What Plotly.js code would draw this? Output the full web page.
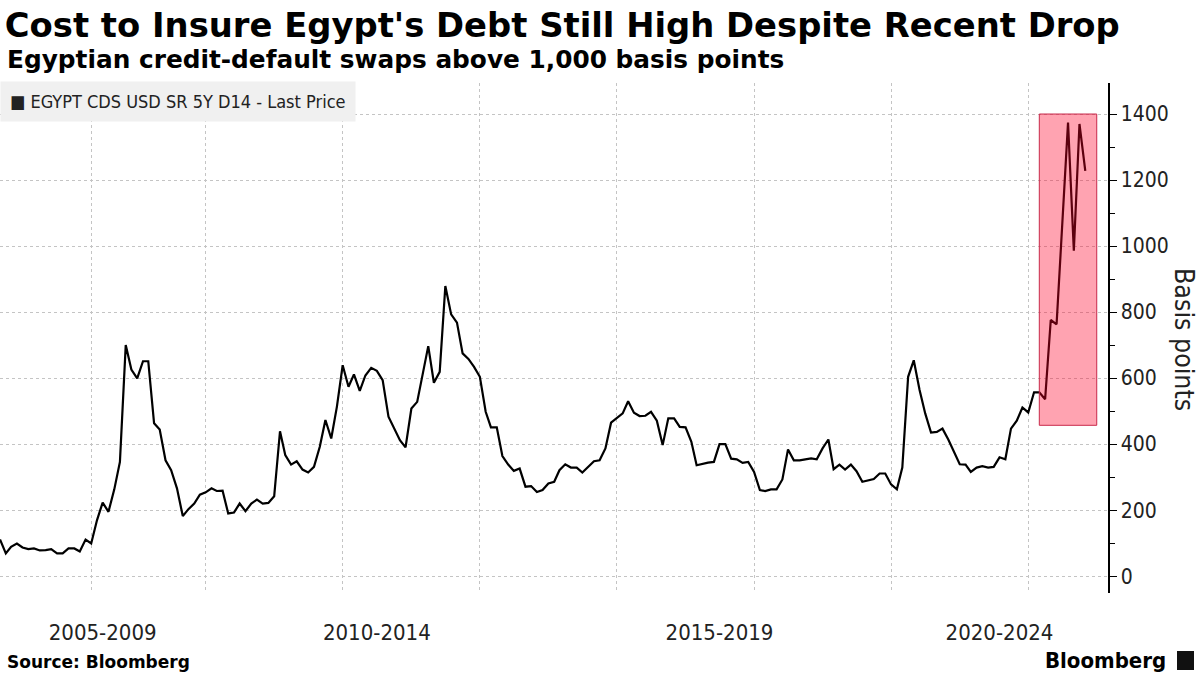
<!DOCTYPE html>
<html>
<head>
<meta charset="utf-8">
<script src="https://cdn.plot.ly/plotly-3.0.1.min.js"></script>
<style>html,body{margin:0;padding:0;background:#fff;}#chart{width:1200px;height:675px;}</style>
</head>
<body>
<div id="chart"></div>
<script>
// ---- data (monthly) ----
const seriesName = 'EGYPT CDS USD SR 5Y D14 - Last Price';
const startYear = 2007;   // first observation: Jan 2007
const startMonth = 1;
const cdsValues = [
  111, 69, 89, 99, 87, 82, 84, 78, 79, 82, 69, 69,            // 2007
  84, 84, 75, 111, 99, 170, 223, 195, 263, 346, 700, 626,     // 2008
  599, 651, 651, 463, 444, 351, 321, 266, 182, 203, 220, 247, // 2009
  254, 266, 258, 259, 190, 193, 220, 197, 220, 232, 220, 222, // 2010
  242, 439, 367, 338, 348, 323, 314, 331, 392, 473, 417, 513, // 2011
  639, 574, 611, 561, 608, 631, 622, 594, 483, 448, 412, 390, // 2012
  508, 528, 614, 697, 586, 619, 879, 793, 768, 675, 658, 634, // 2013
  604, 498, 451, 451, 364, 338, 319, 326, 271, 273, 255, 261, // 2014
  281, 286, 321, 339, 329, 329, 314, 331, 348, 351, 387, 465, // 2015
  478, 493, 530, 495, 485, 486, 498, 471, 397, 478, 478, 452, // 2016
  451, 407, 336, 341, 344, 346, 400, 400, 356, 354, 343, 346, // 2017
  316, 261, 258, 263, 263, 293, 384, 351, 351, 354, 357, 354, // 2018
  387, 414, 324, 338, 323, 338, 318, 286, 289, 294, 311, 311, // 2019
  278, 263, 329, 604, 654, 564, 493, 435, 437, 447, 414, 377, // 2020
  339, 338, 316, 329, 333, 329, 331, 360, 354, 447, 471, 511, // 2021
  496, 557, 557, 536, 776, 763, 1068, 1374, 986, 1370, 1228   // 2022
];
const periodLabels = ['2005-2009', '2010-2014', '2015-2019', '2020-2024'];
const periodLabelDates = ['2008-07-01', '2012-07-01', '2017-07-01', '2021-08-01'];
const gridDates = ['2007-01-01', '2008-05-05', '2010-01-01', '2012-01-01', '2014-01-01',
                   '2016-01-01', '2018-01-01', '2020-01-01', '2022-01-01'];
const yTicks = [0, 200, 400, 600, 800, 1000, 1200, 1400];
const highlightStart = '2022-03-01';
const highlightEnd = '2023-01-01';
const highlightLow = 457;
const highlightHigh = 1400;

// ---- build dates ----
function monthDate(i) {
  const m0 = (startMonth - 1) + i;
  const y = startYear + Math.floor(m0 / 12);
  const m = (m0 % 12) + 1;
  return y + '-' + (m < 10 ? '0' + m : m) + '-01';
}
const cdsDates = cdsValues.map((_, i) => monthDate(i));

const FONT = '"DejaVu Sans Condensed", "DejaVu Sans", sans-serif';
const FONT_WIDE = '"DejaVu Sans", sans-serif';

const trace = {
  type: 'scatter', mode: 'lines',
  x: cdsDates, y: cdsValues, name: seriesName,
  line: { color: '#000000', width: 2.2 },
  showlegend: false, hoverinfo: 'x+y'
};

const layout = {
  width: 1200, height: 675,
  margin: { l: 0, r: 92, t: 83, b: 82 },
  paper_bgcolor: '#ffffff', plot_bgcolor: '#ffffff',
  font: { family: FONT, color: '#222222' },
  showlegend: false,
  title: {
    text: "Cost to Insure Egypt's Debt Still High Despite Recent Drop",
    x: 0.004, xanchor: 'left', y: 0.963, yanchor: 'middle',
    font: { family: FONT_WIDE, size: 33.8, color: '#000000', weight: 'bold' }
  },
  xaxis: {
    type: 'date',
    range: ['2007-01-01', '2023-03-02'],
    tickmode: 'array', tickvals: periodLabelDates, ticktext: periodLabels,
    ticks: '', showgrid: false, showline: false, zeroline: false,
    tickfont: { family: FONT, size: 22, color: '#222222' },
    ticklabelstandoff: 24,
    minor: {
      tickmode: 'array', tickvals: gridDates, ticks: '',
      showgrid: true, gridcolor: '#c4c4c4', gridwidth: 1, griddash: 'dot'
    }
  },
  yaxis: {
    side: 'right',
    range: [-51, 1494],
    tickmode: 'array', tickvals: yTicks,
    ticks: 'outside', ticklen: 7, tickcolor: '#000000', tickwidth: 1,
    showline: true, linecolor: '#000000', linewidth: 1.5,
    showgrid: true, gridcolor: '#c4c4c4', gridwidth: 1, griddash: 'dot',
    zeroline: false,
    tickfont: { family: FONT, size: 21, color: '#222222' },
    minor: { dtick: 100, tick0: 0, ticks: 'outside', ticklen: 5, tickcolor: '#000000', showgrid: false }
  },
  shapes: [
    {
      type: 'rect', xref: 'x', yref: 'y',
      x0: highlightStart, x1: highlightEnd, y0: highlightLow, y1: highlightHigh,
      fillcolor: 'rgba(255,0,40,0.36)',
      line: { color: '#c8284a', width: 1 },
      layer: 'above'
    },
    {
      type: 'rect', xref: 'paper', yref: 'paper',
      x0: 1177 / 1108, x1: 1194 / 1108, y0: (593 - 670) / 510, y1: (593 - 651) / 510,
      fillcolor: '#111111', line: { width: 0 }
    }
  ],
  annotations: [
    {
      text: 'Egyptian credit-default swaps above 1,000 basis points',
      xref: 'paper', yref: 'paper', x: 5 / 1108, y: (593 - 60) / 510,
      xanchor: 'left', yanchor: 'middle', showarrow: false,
      font: { family: FONT_WIDE, size: 24.8, color: '#000000', weight: 'bold' }
    },
    {
      text: '\u25A0 ' + seriesName,
      xref: 'paper', yref: 'paper', x: 0, y: (593 - 102) / 510,
      xanchor: 'left', yanchor: 'middle', showarrow: false,
      bgcolor: '#f0f0f0', borderpad: 9,
      font: { family: FONT, size: 18, color: '#222222' }
    },
    {
      text: 'Basis points',
      xref: 'paper', yref: 'paper', x: 1185 / 1108, y: (593 - 339) / 510,
      xanchor: 'center', yanchor: 'middle', showarrow: false, textangle: 90,
      font: { family: FONT, size: 26.5, color: '#222222' }
    },
    {
      text: 'Source: Bloomberg',
      xref: 'paper', yref: 'paper', x: 5 / 1108, y: (593 - 662) / 510,
      xanchor: 'left', yanchor: 'middle', showarrow: false,
      font: { family: FONT_WIDE, size: 17, color: '#000000', weight: 'bold' }
    },
    {
      text: 'Bloomberg',
      xref: 'paper', yref: 'paper', x: 1168 / 1108, y: (593 - 660) / 510,
      xanchor: 'right', yanchor: 'middle', showarrow: false,
      font: { family: FONT, size: 22, color: '#000000', weight: 'bold' }
    }
  ]
};

Plotly.newPlot('chart', [trace], layout, { displayModeBar: false, staticPlot: true });
</script>
</body>
</html>
